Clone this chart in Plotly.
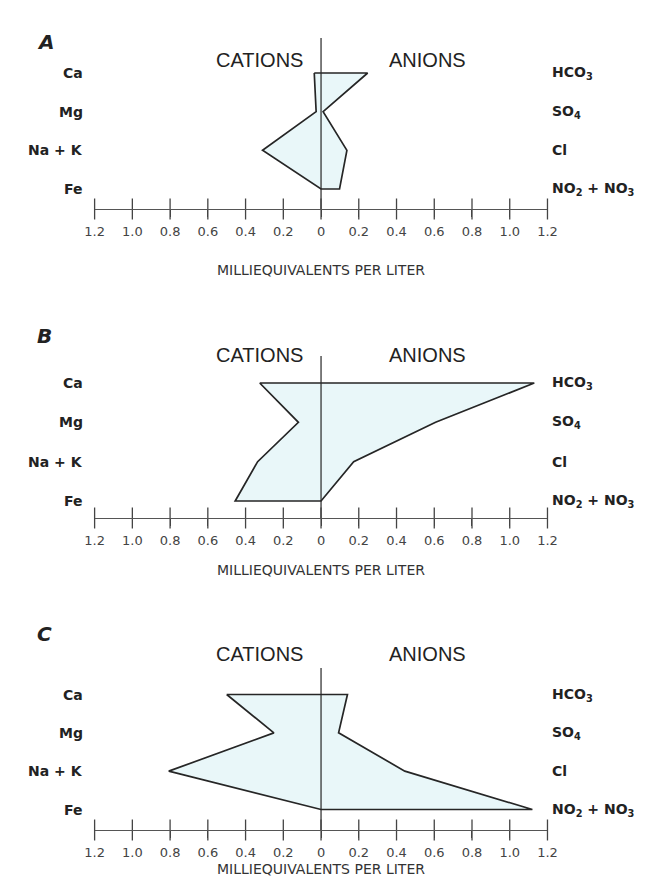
import plotly.graph_objects as go

# ---------------- data ----------------
cation_labels = ["Ca", "Mg", "Na + K", "Fe"]
anion_labels = ["HCO<sub>3</sub>", "SO<sub>4</sub>", "Cl", "NO<sub>2</sub> + NO<sub>3</sub>"]
panel_names = ["A", "B", "C"]

cations_A = [0.036, 0.026, 0.31, 0.0]
anions_A = [0.247, 0.011, 0.137, 0.098]

cations_B = [0.325, 0.12, 0.336, 0.455]
anions_B = [1.13, 0.607, 0.173, 0.0]

cations_C = [0.50, 0.25, 0.807, 0.0]
anions_C = [0.14, 0.093, 0.444, 1.12]

tick_values = [-1.2, -1.0, -0.8, -0.6, -0.4, -0.2, 0, 0.2, 0.4, 0.6, 0.8, 1.0, 1.2]
tick_labels = ["1.2", "1.0", "0.8", "0.6", "0.4", "0.2", "0", "0.2", "0.4", "0.6", "0.8", "1.0", "1.2"]

axis_title = "MILLIEQUIVALENTS PER LITER"

# ---------------- layout (pixels) ----------------
W, H = 661, 879
X_LEFT, X_RIGHT = 79, 546
layout_px = [
    dict(top=30, row0=65, row3=181, axis=201, letter=20, head=38.5, title=251.5),
    dict(top=348, row0=375, row3=493, axis=510, letter=328, head=347, title=561.5),
    dict(top=660, row0=686.5, row3=801.5, axis=822, letter=640, head=659, title=870.5),
]
series = [(cations_A, anions_A), (cations_B, anions_B), (cations_C, anions_C)]

LINE = "#262626"
FILL = "#e9f7f9"
FONT = "DejaVu Sans, Liberation Sans, Arial, sans-serif"
HEAD_FONT = "Liberation Sans, Arial, sans-serif"
X_MIN, X_MAX = -1.2, 1.2

fig = go.Figure()
annotations = []
n_rows = len(cation_labels)

for i, (name, (cat, an), px) in enumerate(zip(panel_names, series, layout_px)):
    k = "" if i == 0 else str(i + 1)
    xa, ya = "x" + k, "y" + k
    s = (px["row3"] - px["row0"]) / (n_rows - 1)
    y_top = -(px["row0"] - px["top"]) / s
    y_bot = (n_rows - 1) + (px["axis"] - px["row3"]) / s
    rows = list(range(n_rows))

    poly_x = [-v for v in cat] + list(reversed(an)) + [-cat[0]]
    poly_y = rows + list(reversed(rows)) + [rows[0]]
    fig.add_trace(go.Scatter(x=poly_x, y=poly_y, mode="lines", fill="toself",
                             fillcolor=FILL, line=dict(color=LINE, width=1.7),
                             xaxis=xa, yaxis=ya, hoverinfo="skip", showlegend=False))
    fig.add_trace(go.Scatter(x=[0, 0], y=[y_top, y_bot], mode="lines",
                             line=dict(color=LINE, width=1.2),
                             xaxis=xa, yaxis=ya, hoverinfo="skip", showlegend=False))
    fig.add_trace(go.Scatter(x=tick_values, y=[y_bot] * len(tick_values), mode="markers",
                             marker=dict(symbol="line-ns", size=15,
                                         line=dict(color="#444", width=1.3)),
                             cliponaxis=False,
                             xaxis=xa, yaxis=ya, hoverinfo="skip", showlegend=False))

    fig.update_layout({
        "xaxis" + k: dict(domain=[X_LEFT / W, X_RIGHT / W], range=[X_MIN, X_MAX],
                          showline=True, linecolor="#555", linewidth=1.3,
                          ticks="outside", ticklen=7, tickcolor="#444", tickwidth=1.3,
                          tickvals=tick_values, ticktext=tick_labels,
                          tickfont=dict(size=13, color="#444", family=FONT),
                          ticklabelstandoff=3,
                          showgrid=False, zeroline=False, anchor=ya, fixedrange=True),
        "yaxis" + k: dict(domain=[1 - px["axis"] / H, 1 - px["top"] / H],
                          range=[y_bot, y_top], showticklabels=False, ticks="",
                          showline=False, showgrid=False, tickvals=[],
                          zeroline=False, anchor=xa, fixedrange=True),
    })

    annotations.append(dict(text=name, x=18 / W, y=1 - px["letter"] / H,
                            xref="paper", yref="paper", showarrow=False,
                            font=dict(size=20, color="#222", family=FONT,
                                      weight="bold", style="italic")))
    annotations.append(dict(text="CATIONS", x=202 / W, y=1 - px["head"] / H,
                            xref="paper", yref="paper", showarrow=False,
                            font=dict(size=20, color="#222", family=HEAD_FONT)))
    annotations.append(dict(text="ANIONS", x=422 / W, y=1 - px["head"] / H,
                            xref="paper", yref="paper", showarrow=False,
                            font=dict(size=20, color="#222", family=HEAD_FONT)))
    annotations.append(dict(text=axis_title, x=312 / W, y=1 - px["title"] / H,
                            xref="paper", yref="paper", showarrow=False,
                            font=dict(size=14, color="#333", family=FONT)))
    for r, (lab_l, lab_r) in enumerate(zip(cation_labels, anion_labels)):
        annotations.append(dict(text=lab_l, x=X_MIN, y=r, xref=xa, yref=ya,
                                xanchor="right", yanchor="middle", xshift=-10,
                                showarrow=False,
                                font=dict(size=14, color="#222", family=FONT, weight="bold")))
        annotations.append(dict(text=lab_r, x=X_MAX, y=r, xref=xa, yref=ya,
                                xanchor="left", yanchor="middle", xshift=3,
                                showarrow=False,
                                font=dict(size=14, color="#222", family=FONT, weight="bold")))

fig.update_layout(width=W, height=H, margin=dict(l=0, r=0, t=0, b=0),
                  paper_bgcolor="white", plot_bgcolor="white",
                  annotations=annotations, showlegend=False)

fig.write_html("out.html", config={"displayModeBar": False})
